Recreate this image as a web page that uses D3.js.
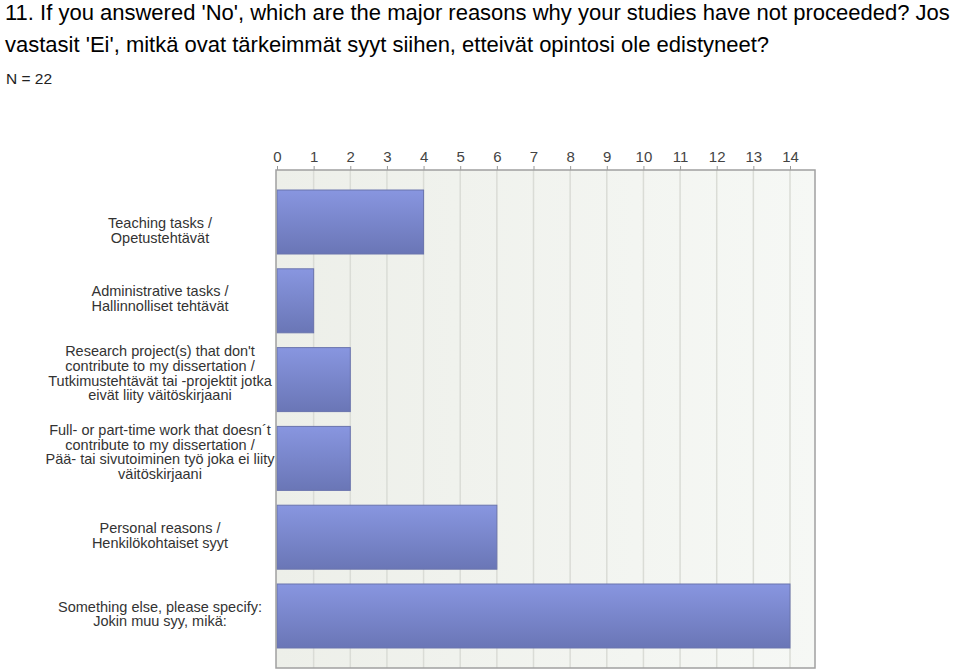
<!DOCTYPE html>
<html><head><meta charset="utf-8">
<script src="https://cdn.jsdelivr.net/npm/d3@7"></script>
<style>body{margin:0;background:#fff;}svg{display:block;font-family:"Liberation Sans",Arial,sans-serif;}</style>
</head><body>
<svg id="c" width="960" height="672"></svg>
<script>
const titleLines = ["11. If you answered 'No', which are the major reasons why your studies have not proceeded? Jos",
  "vastasit 'Ei', mitkä ovat tärkeimmät syyt siihen, etteivät opintosi ole edistyneet?"];
const subtitle = "N = 22";
const categories = [
  ["","","Teaching tasks /","Opetustehtävät"],
  ["Administrative tasks /","Hallinnolliset tehtävät"],
  ["Research project(s) that don't","contribute to my dissertation /","Tutkimustehtävät tai -projektit jotka","eivät liity väitöskirjaani"],
  ["Full- or part-time work that doesn´t","contribute to my dissertation /","Pää- tai sivutoiminen työ joka ei liity","väitöskirjaani"],
  ["Personal reasons /","Henkilökohtaiset syyt"],
  ["Something else, please specify:","Jokin muu syy, mikä:"]
];
const values = [4, 1, 2, 2, 6, 14];
const tickValues = [0,1,2,3,4,5,6,7,8,9,10,11,12,13,14];

const svg = d3.select("#c");
const defs = svg.append("defs");
const bg = defs.append("linearGradient").attr("id","bg").attr("x1","0").attr("x2","1").attr("y1","0").attr("y2","0");
bg.append("stop").attr("offset","0").attr("stop-color","#edefe9");
bg.append("stop").attr("offset","1").attr("stop-color","#f6f8f5");
const bar = defs.append("linearGradient").attr("id","bar").attr("x1","0").attr("x2","0").attr("y1","0").attr("y2","1");
bar.append("stop").attr("offset","0").attr("stop-color","#8896e0");
bar.append("stop").attr("offset","1").attr("stop-color","#6a76b6");

svg.append("g").selectAll("text").data(titleLines).join("text")
  .attr("x",5).attr("y",(d,i)=>20+i*32).attr("font-size",22).attr("fill","#000").text(d=>d);
svg.append("text").attr("x",6).attr("y",84).attr("font-size",15.5).attr("fill","#222").text(subtitle);

const pL=276, pR=815, pT=170, pB=668;
const x = d3.scaleLinear().domain([0,14]).range([277,790]);
const y = d3.scaleBand().domain(d3.range(categories.length)).range([pT,pB]).paddingInner(0.188).paddingOuter(0.254);

svg.append("rect").attr("x",pL).attr("y",pT).attr("width",pR-pL).attr("height",pB-pT).attr("fill","url(#bg)");

const axis = d3.axisTop(x).tickValues(tickValues).tickSize(4).tickPadding(4).tickFormat(d3.format("d"));
const ag = svg.append("g").attr("transform",`translate(0,${pT})`).call(axis);
ag.select(".domain").remove();
ag.selectAll(".tick line").attr("stroke","#999");
ag.selectAll(".tick text").attr("font-size",15).attr("fill","#444").attr("font-family","Liberation Sans, Arial, sans-serif");

svg.append("g").selectAll("line").data(tickValues.slice(1)).join("line")
  .attr("x1",d=>x(d)).attr("x2",d=>x(d)).attr("y1",pT).attr("y2",pB)
  .attr("stroke","#dadcd6").attr("stroke-width",1.5);

svg.append("g").selectAll("rect").data(values).join("rect")
  .attr("x",x(0)).attr("y",(d,i)=>y(i)).attr("width",d=>x(d)-x(0)).attr("height",y.bandwidth())
  .attr("fill","url(#bar)").attr("stroke","#6a74ad").attr("stroke-width",1);

svg.append("rect").attr("x",pL).attr("y",pT).attr("width",pR-pL).attr("height",pB-pT)
  .attr("fill","none").attr("stroke","#a0a0a0").attr("stroke-width",1.5);

const lh = 14.7;
const lg = svg.append("g");
categories.forEach((lines,i)=>{
  const n = lines.length;
  const cy = y(i)+y.bandwidth()/2;
  const t = lg.append("text").attr("text-anchor","middle").attr("font-size",14.5).attr("fill","#333");
  lines.forEach((l,j)=>{
    t.append("tspan").attr("x",160).attr("y",cy-(n-1)*lh/2+j*lh+3-(n-2)*2.2).text(l);
  });
});
</script>
</body></html>
